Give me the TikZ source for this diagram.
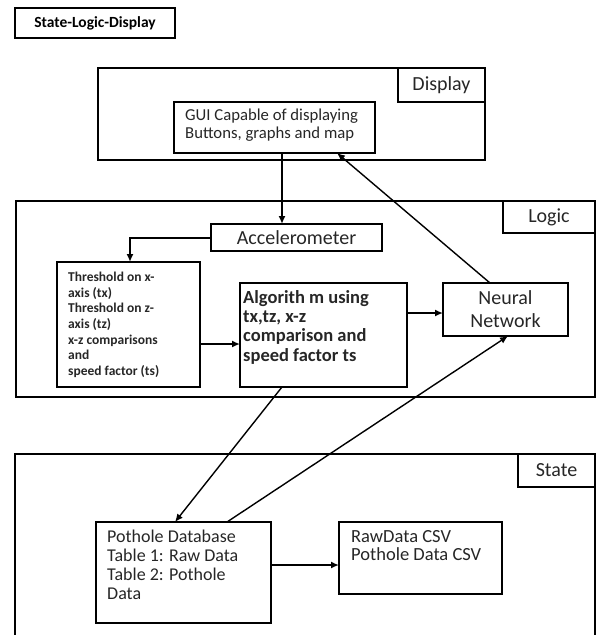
\documentclass[tikz,border=0pt]{standalone}
\usepackage{fontspec}
\setmainfont{Carlito}
\usetikzlibrary{arrows.meta}
\begin{document}
\begin{tikzpicture}[x=1pt,y=-1pt,
  frame/.style={draw, line width=1.2pt, inner sep=0pt, outer sep=0pt, anchor=north west},
  arr/.style={line width=2pt, -{Latex[length=8pt,width=7pt]}},
  thinarr/.style={line width=1.4pt, -{Latex[length=8pt,width=7pt]}},
  txt/.style={inner sep=0pt, anchor=north west, align=left, text=black!85},
  big/.style={font=\fontsize{20}{23}\selectfont, text=black!85},
]
\useasboundingbox (0,0) rectangle (597,635);
\begin{scope}
\clip (0,0) rectangle (597,635);
% title
\node[frame, minimum width=160pt, minimum height=30pt, font=\bfseries\fontsize{15.5}{17}\selectfont] (title) at (15,8) {State-Logic-Display};

% Display layer
\node[frame, minimum width=387pt, minimum height=92pt] (display) at (98,68) {};
\node[frame, minimum width=87pt, minimum height=34pt, big] (displab) at (398,68) {Display};
\node[frame, minimum width=201pt, minimum height=51pt] (gui) at (174,102) {};
\node[txt, font=\fontsize{16.7}{18}\selectfont] (guitxt) at (185,109) {GUI Capable of displaying\\Buttons, graphs and map};

% Logic layer
\node[frame, minimum width=579pt, minimum height=196pt] (logic) at (16,201) {};
\node[frame, minimum width=92pt, minimum height=32pt, big] (logiclab) at (503,201) {Logic};
\node[frame, minimum width=171pt, minimum height=27pt, big] (acc) at (211,224) {Accelerometer};
\node[frame, minimum width=143pt, minimum height=125pt] (thr) at (57,262) {};
\node[txt, font=\bfseries\fontsize{13.5}{15.6}\selectfont] (thrtxt) at (68,272) {Threshold on x-\\axis (tx)\\Threshold on z-\\axis (tz)\\x-z comparisons\\and\\speed factor (ts)};
\node[frame, minimum width=167pt, minimum height=104pt] (alg) at (240,283) {};
\node[txt, font=\bfseries\fontsize{18.5}{19.3}\selectfont] (algtxt) at (243,290) {Algorith m using\\tx,tz, x-z\\comparison and\\speed factor ts};
\node[frame, minimum width=125pt, minimum height=53pt, align=center, font=\fontsize{20}{23}\selectfont, text=black!85] (nn) at (443,283) {Neural\\Network};

% State layer
\node[frame, minimum width=580pt, minimum height=200pt] (state) at (15,454) {};
\node[frame, minimum width=77pt, minimum height=33pt, big] (statelab) at (518,454) {State};
\node[frame, minimum width=175pt, minimum height=101pt] (db) at (96,522) {};
\node[txt, font=\fontsize{18}{19}\selectfont] (dbtxt) at (107,530) {Pothole Database\\Table 1: Raw Data\\Table 2: Pothole\\Data};
\node[frame, minimum width=163pt, minimum height=72pt] (csv) at (339,522) {};
\node[txt, font=\fontsize{18.5}{18.5}\selectfont] (csvtxt) at (351,530) {RawData CSV\\Pothole Data CSV};
\end{scope}

% connectors
\draw[arr] ([xshift=108pt]gui.south west) -- ([xshift=71pt]acc.north west);
\draw[arr] (acc.west) -| ([xshift=73pt]thr.north west);
\draw[arr] ([yshift=-82pt]thr.north east) -- ([yshift=-61pt]alg.north west);
\draw[arr] ([yshift=-30pt]alg.north east) -- ([yshift=-30pt]nn.north west);
\draw[thinarr] ([xshift=47pt]nn.north west) -- ([xshift=163pt]gui.south west);
\draw[thinarr] ([xshift=42pt]alg.south west) -- ([xshift=79pt]db.north west);
\draw[thinarr] ([xshift=131pt]db.north west) -- ([xshift=65pt]nn.south west);
\draw[arr] ([yshift=-43pt]db.north east) -- ([yshift=-43pt]csv.north west);
\end{tikzpicture}
\end{document}
